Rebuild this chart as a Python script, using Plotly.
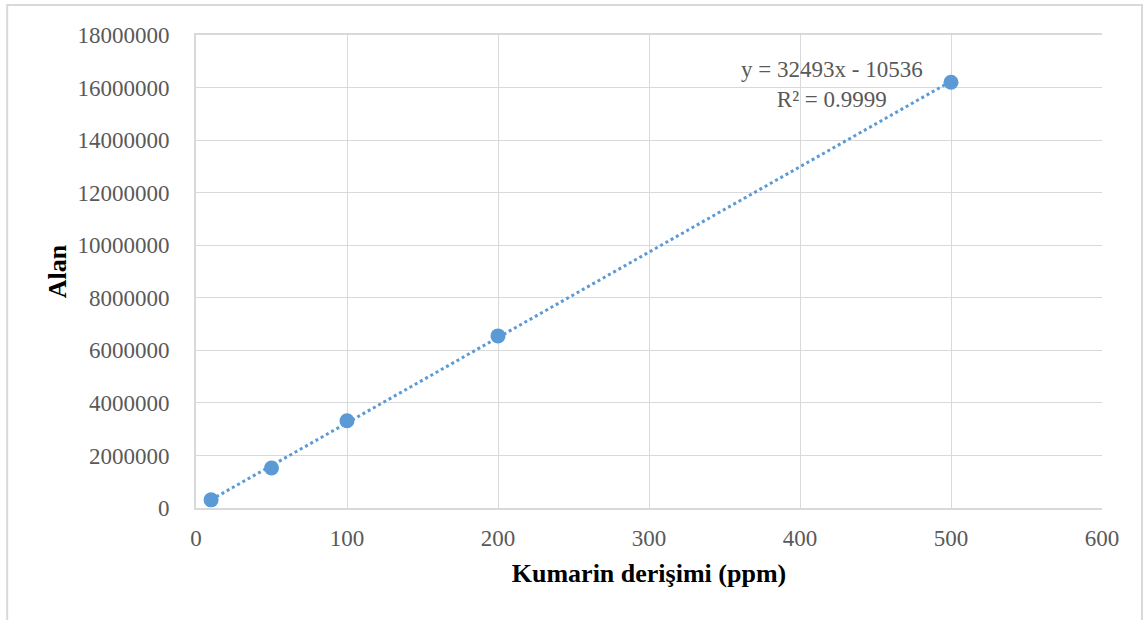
import numpy as np
import plotly.graph_objects as go

# Data
concentration = [10, 50, 100, 200, 500]
area = [310000, 1520000, 3320000, 6550000, 16200000]
slope = 32493
intercept = -10536
r_squared = 0.9999
x_ticks = [0, 100, 200, 300, 400, 500, 600]
y_ticks = [0, 2000000, 4000000, 6000000, 8000000, 10000000, 12000000, 14000000, 16000000, 18000000]

blue = "#5B9BD5"
tick_col = "#595959"
grid_col = "#D9D9D9"
font_family = "Liberation Serif"

fig = go.Figure()

trend_x = np.array([min(concentration), max(concentration)], dtype=float)
trend_y = slope * trend_x + intercept
fig.add_trace(go.Scatter(x=trend_x, y=trend_y, mode="lines",
                         line=dict(color=blue, width=3, dash="dot"),
                         hoverinfo="skip", showlegend=False))
fig.add_trace(go.Scatter(x=concentration, y=area, mode="markers",
                         marker=dict(color=blue, size=15),
                         showlegend=False))

fig.add_annotation(x=0.7023, y=0.895, xref="paper", yref="paper",
                   xanchor="center", yanchor="middle",
                   text=f"y = {slope}x - {abs(intercept)}<br>R² = {r_squared}",
                   showarrow=False, align="center",
                   font=dict(family=font_family, size=23, color=tick_col))

fig.update_xaxes(range=[0, 600], tickvals=x_ticks, ticktext=[str(v) for v in x_ticks],
                 showgrid=True, gridcolor=grid_col, gridwidth=1,
                 showline=True, linecolor=grid_col, linewidth=2, mirror=True,
                 zeroline=False, ticks="", ticklabelstandoff=8,
                 tickfont=dict(family=font_family, size=23, color=tick_col),
                 title=dict(text="<b>Kumarin derişimi (ppm)</b>", standoff=14,
                            font=dict(family=font_family, size=26, color="black")))
fig.update_yaxes(range=[0, 18000000], tickvals=y_ticks, ticktext=[str(v) for v in y_ticks],
                 showgrid=True, gridcolor=grid_col, gridwidth=1,
                 showline=True, linecolor=grid_col, linewidth=2,
                 zeroline=False, ticks="", ticklabelstandoff=20,
                 tickfont=dict(family=font_family, size=23, color=tick_col),
                 title=dict(text="<b>Alan</b>", standoff=3,
                            font=dict(family=font_family, size=26, color="black")))

fig.add_shape(type="rect", xref="paper", yref="paper",
              x0=-0.2084, x1=1.0441, y0=-0.30, y1=1.0634,
              line=dict(color="#D9D9D9", width=2), layer="below")

fig.update_layout(width=1145, height=620,
                  margin=dict(l=196, r=43, t=35, b=112),
                  paper_bgcolor="white", plot_bgcolor="white",
                  showlegend=False)

fig.write_html("out.html")
